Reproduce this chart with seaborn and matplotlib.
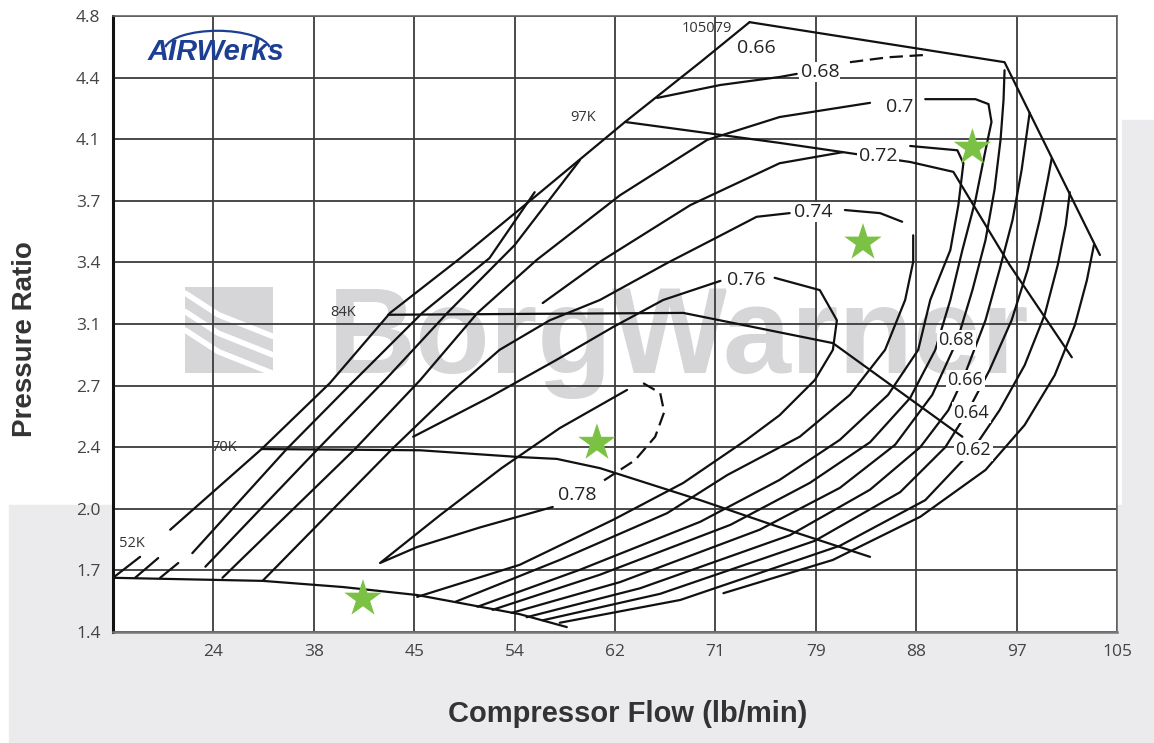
import pandas as pd
import matplotlib
matplotlib.use("Agg")
import matplotlib.pyplot as plt
from matplotlib.patches import Rectangle, Arc
import seaborn as sns

# the map's axes are not linear: every grid step is one tick, so points are in grid steps
flow_ticks = ["", "24", "38", "45", "54", "62", "71", "79", "88", "97", "105"]
pr_ticks = ["1.4", "1.7", "2.0", "2.4", "2.7", "3.1", "3.4", "3.7", "4.1", "4.4", "4.8"]

# surge line
surge_low = [(0.00, 0.88), (0.27, 1.22)]
surge = [(0.57, 1.66), (1.48, 2.97), (2.16, 4.04), (2.76, 5.18), (3.46, 6.07),
         (4.25, 7.13), (5.10, 8.28), (5.85, 9.25), (6.34, 9.90)]

# speed lines
speed_52k = [(0.00, 0.88), (1.49, 0.83), (2.29, 0.73), (3.03, 0.60), (3.46, 0.47),
             (4.05, 0.29), (4.52, 0.08)]
speed_70k = [(1.48, 2.97), (3.06, 2.95), (4.05, 2.84), (4.42, 2.81), (4.85, 2.66),
             (5.85, 2.14), (6.64, 1.70), (7.54, 1.22)]
speed_84k = [(2.74, 5.15), (5.68, 5.18), (7.17, 4.69), (8.46, 3.17)]
speed_97k = [(5.10, 8.28), (6.64, 7.94), (7.27, 7.79), (7.94, 7.63), (8.37, 7.47),
             (8.93, 5.96), (9.55, 4.46)]
speed_105k = [(6.34, 9.90), (8.88, 9.25), (9.83, 6.12)]
speed_labels = ["105079", "97K", "84K", "70K", "52K"]
speed_label_x = [5.91, 4.68, 2.29, 1.11, 0.19]
speed_label_y = [9.79, 8.36, 5.19, 3.00, 1.44]

# efficiency islands
eff_tick_a = [(0.22, 0.88), (0.45, 1.20)]
eff_tick_b = [(0.47, 0.88), (0.65, 1.12)]
eff_x1 = [(0.79, 1.28), (1.73, 2.97), (2.36, 4.01), (3.08, 5.18), (3.75, 6.07), (4.20, 7.14)]
eff_x2 = [(0.92, 1.06), (2.04, 2.97), (2.71, 4.09), (3.33, 5.18), (4.00, 6.28), (4.65, 7.66)]
eff_70_left = [(1.09, 0.88), (2.41, 2.97), (3.06, 4.09), (3.63, 5.18), (4.22, 6.04),
               (5.05, 7.09), (5.92, 7.99), (6.64, 8.36), (7.54, 8.59)]
eff_70_right = [(8.09, 8.65), (8.59, 8.65), (8.72, 8.57), (8.75, 8.28), (8.69, 7.82),
                (8.59, 7.01), (8.46, 6.20), (8.34, 5.39), (8.19, 4.58), (7.94, 3.80),
                (7.54, 3.08), (6.94, 2.42), (6.15, 1.74), (4.85, 0.93), (3.78, 0.36)]
eff_72_left = [(4.28, 5.34), (4.85, 6.01), (5.75, 6.93), (6.64, 7.61), (7.27, 7.79)]
eff_72_right = [(7.94, 7.89), (8.41, 7.82), (8.47, 7.61), (8.42, 6.93), (8.34, 6.20),
                (8.14, 5.39), (8.02, 4.58), (7.72, 3.85), (7.24, 3.12), (6.64, 2.47),
                (5.85, 1.79), (4.65, 1.01), (3.63, 0.41)]
eff_74_left = [(1.49, 0.83), (2.78, 2.97), (3.36, 3.88), (3.85, 4.58), (4.35, 5.06),
               (4.85, 5.39), (5.52, 5.99), (6.02, 6.41), (6.41, 6.74), (6.74, 6.80)]
eff_74_top = [(7.29, 6.85), (7.64, 6.80), (7.86, 6.66)]
eff_74_right = [(7.97, 6.44), (7.97, 6.01), (7.89, 5.39), (7.69, 4.58), (7.34, 3.85),
                (6.84, 3.17), (6.12, 2.55), (5.52, 1.93), (4.45, 1.17), (3.41, 0.49)]
eff_76_left = [(2.99, 3.17), (3.75, 3.81), (4.42, 4.42), (4.98, 4.95), (5.48, 5.39), (6.05, 5.70)]
eff_76_right = [(6.59, 5.75), (7.04, 5.55), (7.21, 5.06), (7.17, 4.58), (6.99, 4.09),
                (6.64, 3.52), (6.31, 3.12), (5.68, 2.42), (4.98, 1.82), (4.05, 1.09), (3.03, 0.57)]
eff_78 = [(4.38, 2.03), (3.66, 1.70), (3.03, 1.38), (2.66, 1.12), (3.26, 1.90),
          (3.87, 2.66), (4.45, 3.31), (5.12, 3.93)]
eff_78_arc = [(5.28, 4.04), (5.45, 3.88), (5.49, 3.57), (5.40, 3.17), (5.20, 2.79), (4.88, 2.45)]
eff_68_top = [(5.42, 8.67), (6.05, 8.88), (6.64, 9.01), (6.81, 9.06)]
eff_68_dash = [(7.34, 9.25), (7.72, 9.33), (8.11, 9.37)]
eff_68_right = [(3.97, 0.31), (5.05, 0.81), (6.44, 1.66), (7.24, 2.34), (7.79, 3.04),
                (8.16, 3.85), (8.41, 4.74), (8.56, 5.55), (8.69, 6.36), (8.78, 7.18),
                (8.84, 7.99), (8.87, 8.64), (8.88, 9.12)]
eff_66_right = [(4.12, 0.24), (5.25, 0.71), (6.74, 1.57), (7.54, 2.31), (8.04, 3.00),
                (8.32, 3.60), (8.47, 4.12), (8.69, 5.06), (8.83, 5.88), (8.96, 6.69),
                (9.05, 7.50), (9.13, 8.43)]
eff_64_right = [(4.28, 0.19), (5.45, 0.62), (6.99, 1.48), (7.84, 2.27), (8.29, 3.00),
                (8.51, 3.57), (8.73, 4.25), (8.95, 5.06), (9.11, 5.88), (9.23, 6.69),
                (9.31, 7.34), (9.35, 7.69)]
eff_62_right = [(4.45, 0.15), (5.65, 0.52), (7.24, 1.40), (8.09, 2.14), (8.56, 2.95),
                (8.83, 3.60), (9.08, 4.33), (9.28, 5.15), (9.41, 5.96), (9.49, 6.61), (9.53, 7.14)]
eff_60_right = [(6.08, 0.63), (7.17, 1.17), (8.04, 1.87), (8.69, 2.63), (9.08, 3.36),
                (9.38, 4.17), (9.58, 4.98), (9.70, 5.71), (9.77, 6.28)]

eff_labels = ["0.66", "0.68", "0.7", "0.72", "0.74", "0.76", "0.78",
              "0.68", "0.66", "0.64", "0.62"]
eff_label_x = [6.41, 7.04, 7.84, 7.62, 6.97, 6.31, 4.62, 8.40, 8.49, 8.55, 8.57]
eff_label_y = [9.48, 9.09, 8.52, 7.73, 6.82, 5.71, 2.22, 4.74, 4.09, 3.56, 2.95]
eff_label_size = [14, 14, 14, 14, 14, 14, 14, 13, 13, 13, 13]

# operating points
star_flow = [2.49, 4.82, 7.47, 8.56]
star_pr = [0.54, 3.07, 6.32, 7.86]

solid = {
    "surge": surge, "52k": speed_52k, "70k": speed_70k, "84k": speed_84k,
    "97k": speed_97k, "105k": speed_105k, "ta": eff_tick_a, "tb": eff_tick_b,
    "x1": eff_x1, "x2": eff_x2, "70l": eff_70_left, "70r": eff_70_right,
    "72l": eff_72_left, "72r": eff_72_right, "74l": eff_74_left, "74t": eff_74_top,
    "74r": eff_74_right, "76l": eff_76_left, "76r": eff_76_right, "78": eff_78,
    "68t": eff_68_top, "68r": eff_68_right, "66r": eff_66_right, "64r": eff_64_right,
    "62r": eff_62_right, "60r": eff_60_right, "sl": surge_low,
}
dashed = {"78a": eff_78_arc, "68d": eff_68_dash}


def to_frame(lines):
    rows = []
    for name, pts in lines.items():
        for i, (x, y) in enumerate(pts):
            rows.append({"line": name, "i": i, "flow": x, "pr": y})
    return pd.DataFrame(rows)


sns.set_style("white")
plt.rcParams["font.family"] = ["Open Sans", "DejaVu Sans"]

fig = plt.figure(figsize=(11.54, 7.43), dpi=100)
fig.patch.set_facecolor("white")
fig.add_artist(Rectangle((9 / 1154, 0), 1, 1 - 505 / 743, transform=fig.transFigure,
                         color="#ebebee", zorder=0))
fig.add_artist(Rectangle((1122 / 1154, 0), 1, 1 - 120 / 743, transform=fig.transFigure,
                         color="#ebebee", zorder=0))
ax = fig.add_axes([113 / 1154, 1 - 632 / 743, 1004 / 1154, 616 / 743])
ax.set_facecolor("white")

# watermark
ax.add_patch(Rectangle((0.72, 4.20), 0.87, 1.40, color="#d6d6d9", zorder=0.2, lw=0))
for yy in (4.55, 4.85, 5.15):
    ax.plot([0.72, 1.05, 1.59], [yy + 0.35, yy, yy - 0.35], color="white", lw=4, zorder=0.25)
ax.text(2.14, 4.20, "BorgWarner", fontsize=88, fontweight="bold", color="#d6d6d9",
        family="Liberation Sans", ha="left", va="baseline", zorder=0.3)

# logo
ax.text(0.34, 9.29, "AIRWerks", fontsize=21, fontweight="bold", fontstyle="italic",
        color="#1c3f94", family="Liberation Sans", ha="left", va="baseline", zorder=3)
ax.add_patch(Arc((1.04, 9.45), 1.05, 0.62, theta1=5, theta2=175, color="#1c3f94", lw=1.6, zorder=3))

sns.lineplot(data=to_frame(solid), x="flow", y="pr", units="line", estimator=None,
             sort=False, color="#111111", lw=1.6, ax=ax, legend=False)
sns.lineplot(data=to_frame(dashed), x="flow", y="pr", units="line", estimator=None,
             sort=False, color="#111111", lw=1.6, ax=ax, legend=False, dashes=False,
             linestyle=(0, (6, 3)))

sns.scatterplot(x=star_flow, y=star_pr, marker="*", s=800, color="#7bc143",
                edgecolor="none", ax=ax, zorder=6)

for t, x, y in zip(speed_labels, speed_label_x, speed_label_y):
    ax.text(x, y, t, fontsize=10.5, color="#333333", ha="center", va="center", zorder=5)
for t, x, y, fs in zip(eff_labels, eff_label_x, eff_label_y, eff_label_size):
    ax.text(x, y, t, fontsize=fs, color="#222222", ha="center", va="center", zorder=5,
            bbox=dict(facecolor="white", edgecolor="none", pad=1.0))

ax.set_xlim(0, 10)
ax.set_ylim(0, 10)
ax.set_xticks(range(11))
ax.set_xticklabels(flow_ticks)
ax.set_yticks(range(11))
ax.set_yticklabels(pr_ticks)
ax.set_axisbelow(True)
ax.grid(True, color="#3c3c3c", lw=1.3)
ax.tick_params(axis="both", length=6, width=1, color="#888888", labelsize=12.5,
               labelcolor="#444444", pad=3)
for side in ("top", "right"):
    ax.spines[side].set_color("#666666")
    ax.spines[side].set_linewidth(1.2)
ax.spines["left"].set_color("#111111")
ax.spines["left"].set_linewidth(2.2)
ax.spines["bottom"].set_color("#777777")
ax.spines["bottom"].set_linewidth(1.8)

ax.set_xlabel("Compressor Flow (lb/min)", fontsize=21, fontweight="bold",
              color="#333333", family="Liberation Sans")
ax.set_ylabel("Pressure Ratio", fontsize=20, fontweight="bold",
              color="#333333", family="Liberation Sans")
ax.xaxis.set_label_coords(0.513, -0.110)
ax.yaxis.set_label_coords(-0.0747, 0.476)

fig.savefig("out.png", dpi=100, facecolor=fig.get_facecolor())
